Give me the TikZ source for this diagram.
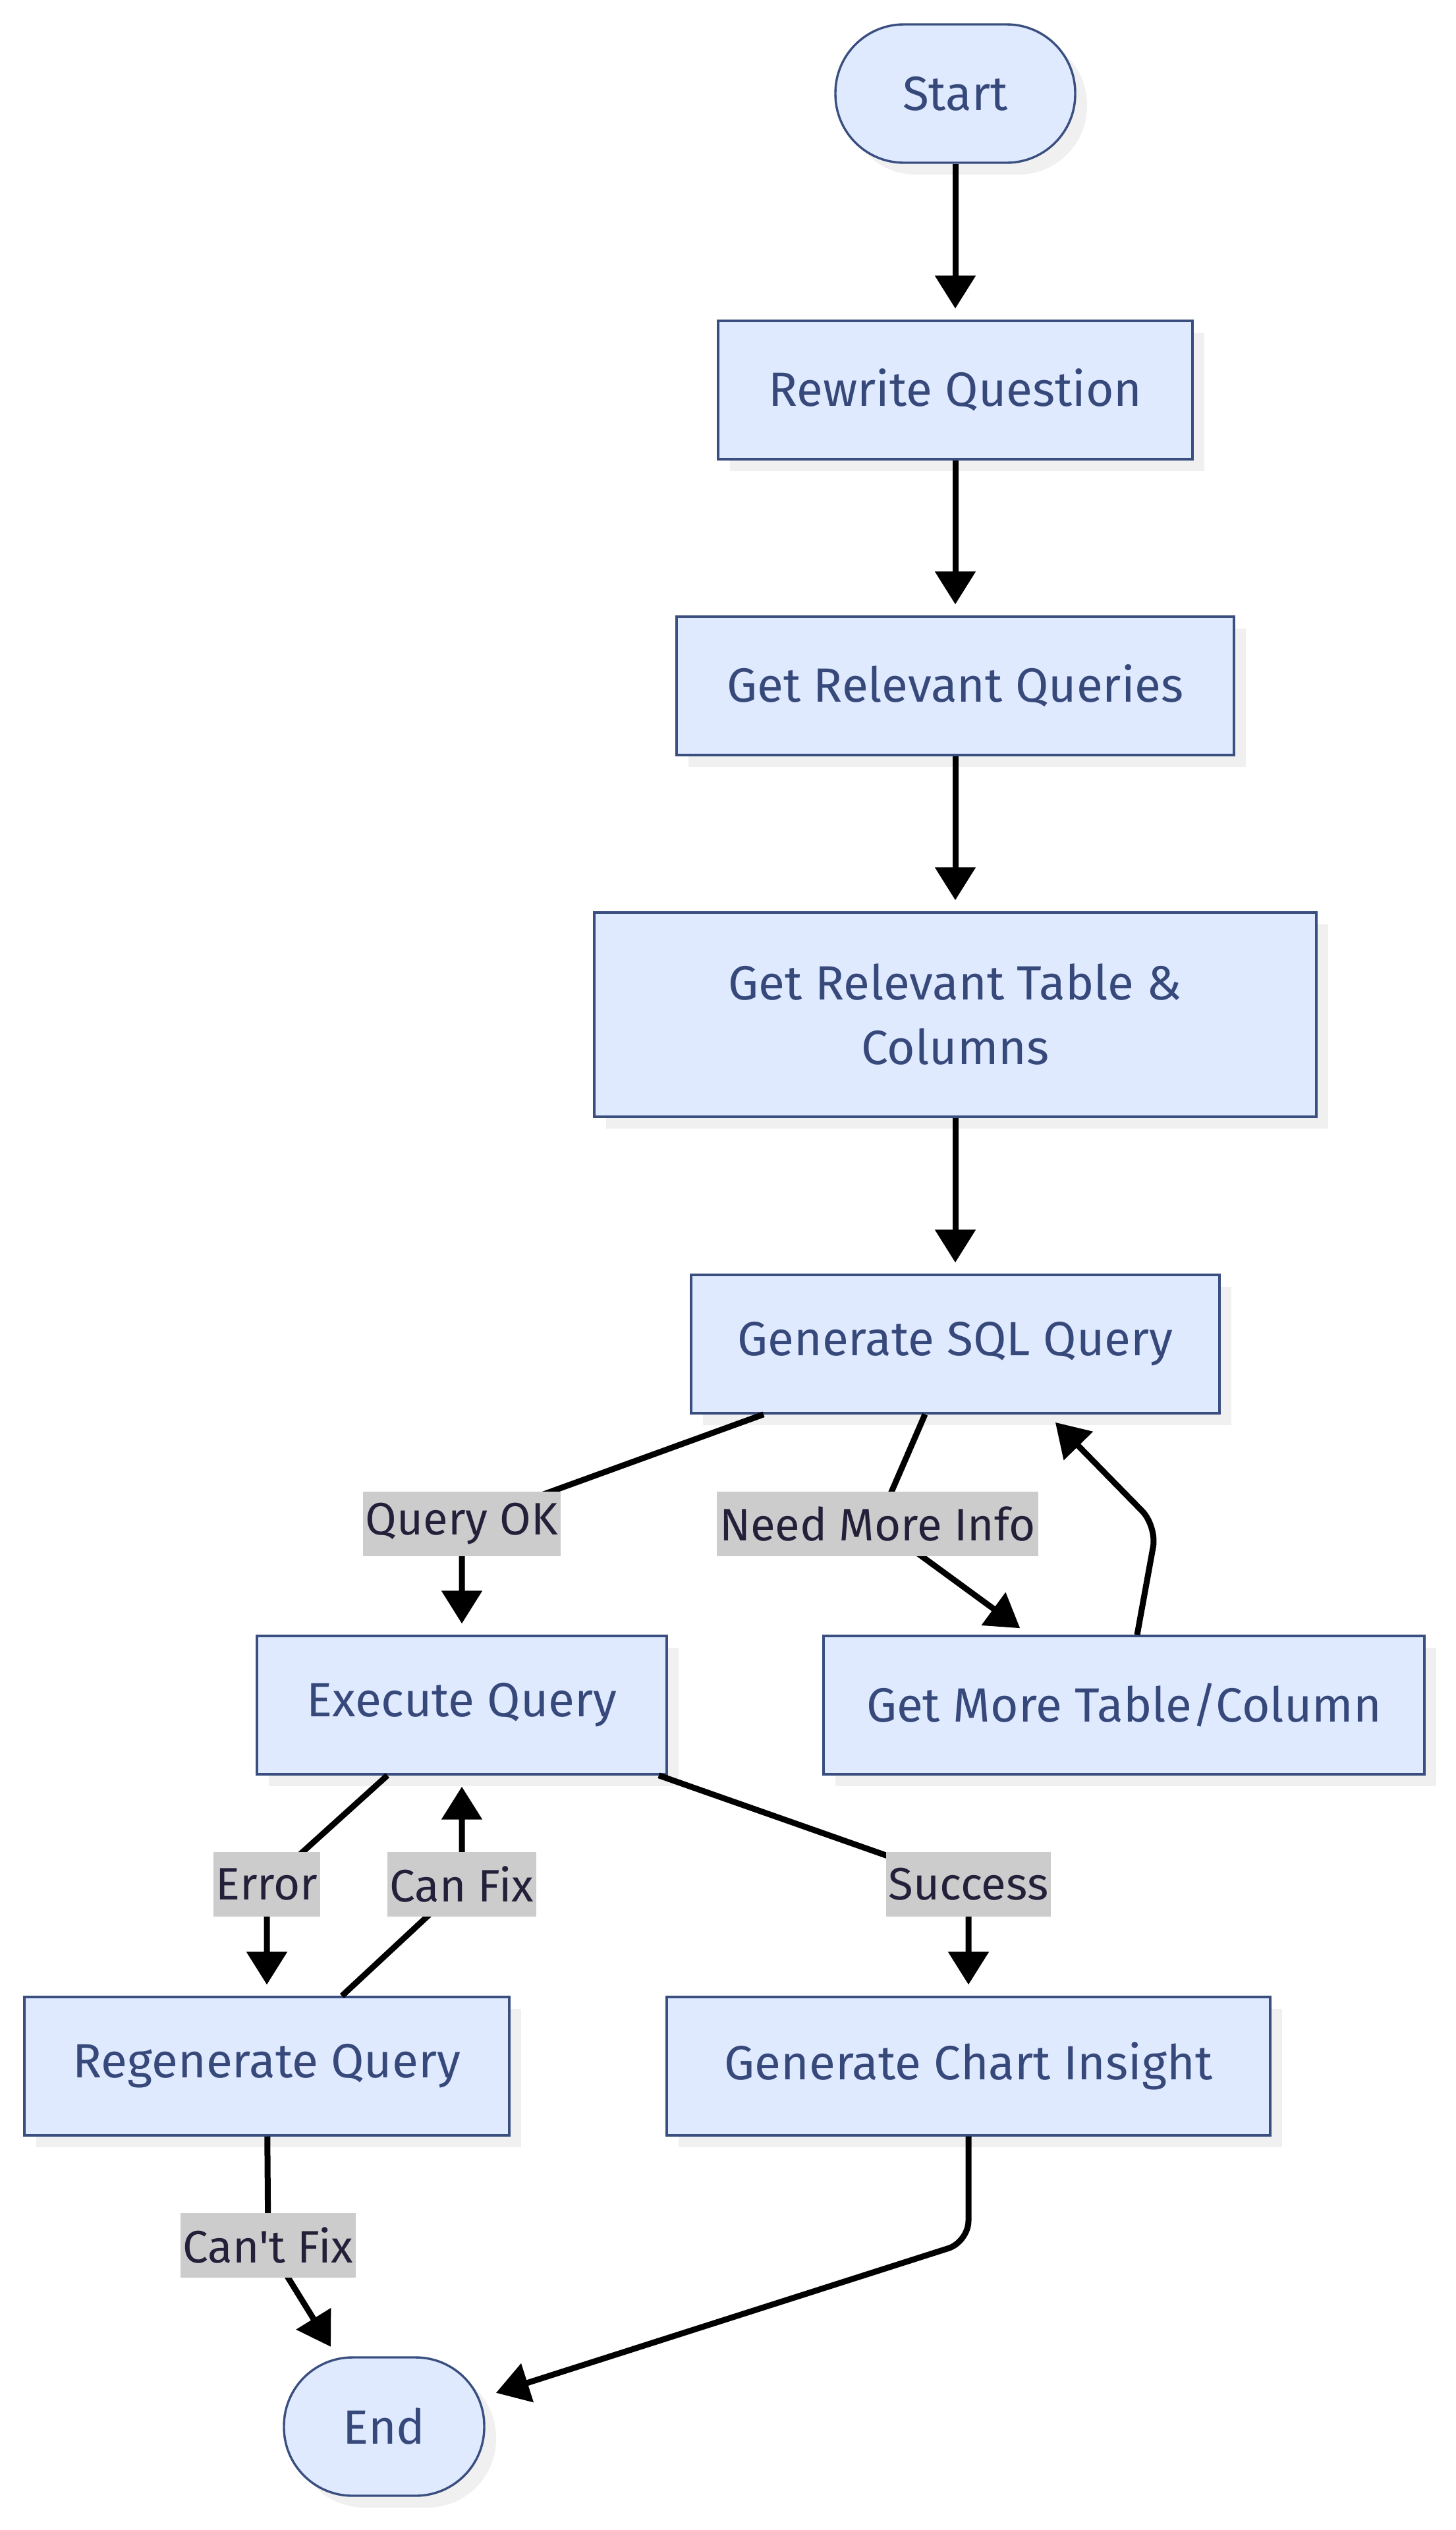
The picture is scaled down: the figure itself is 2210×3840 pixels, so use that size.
\documentclass[tikz,border=0pt]{standalone}
\usepackage{fontspec}
\setmainfont{Fira Sans}
\usetikzlibrary{arrows.meta,shadows}

\pgfdeclarelayer{front}
\pgfsetlayers{main,front}

\definecolor{nodefill}{HTML}{E0EAFF}
\definecolor{nodeline}{HTML}{3A4F80}
\definecolor{nodetext}{HTML}{36497A}
\definecolor{lblfill}{HTML}{CCCCCC}
\definecolor{lbltext}{HTML}{24203A}

\tikzset{
  box/.style={draw=nodeline, fill=nodefill, line width=1.7pt, text=nodetext,
    minimum height=105pt, inner sep=0pt, align=center,
    font=\fontsize{36.5pt}{49pt}\selectfont,
    drop shadow={shadow xshift=9pt, shadow yshift=-9pt, fill=black!6, opacity=1}},
  pill/.style={box, rounded corners=52pt},
  lbl/.style={fill=lblfill, text=lbltext, inner xsep=2pt, inner ysep=0pt,
    minimum height=49pt, font=\fontsize{34.5pt}{49pt}\selectfont},
  edge/.style={line width=4.5pt, -{Triangle[length=25pt,width=30pt]}, shorten >=8.5pt},
}

\begin{document}
\begin{tikzpicture}[x=0.5pt, y=-0.5pt]
    \useasboundingbox (0,0) rectangle (2210,3840);

    % Nodes
    \node[pill, minimum width=182pt] (start) at (1450,142) {Start};
    \node[box, minimum width=360pt] (rewrite) at (1450,592) {Rewrite Question};
    \node[box, minimum width=423pt] (queries) at (1450,1041) {Get Relevant Queries};
    \node[box, minimum width=548pt, minimum height=155pt] (tables) at (1450,1540) {Get Relevant Table \&\\Columns};
    \node[box, minimum width=401pt] (gensql) at (1450,2040) {Generate SQL Query};
    \node[box, minimum width=311pt] (exec) at (701,2588) {Execute Query};
    \node[box, minimum width=456pt] (more) at (1706,2588) {Get More Table/Column};
    \node[box, minimum width=368pt] (regen) at (405,3136) {Regenerate Query};
    \node[box, minimum width=458pt] (chart) at (1470,3136) {Generate Chart Insight};
    \node[pill, minimum width=152pt] (end) at (583,3683) {End};

    % Edge labels
    \begin{pgfonlayer}{front}
        \node[lbl] (lblok) at (701,2313) {Query OK};
        \node[lbl] (lblmore) at (1332,2313) {Need More Info};
        \node[lbl] (lblerr) at (405,2860) {Error};
        \node[lbl] (lblfix) at (701,2860) {Can Fix};
        \node[lbl] (lblsucc) at (1470,2860) {Success};
        \node[lbl] (lblnofix) at (407,3408) {Can\textquotesingle t Fix};
    \end{pgfonlayer}

    % Edges
    \foreach \a/\b in {start/rewrite,rewrite/queries,queries/tables,tables/gensql}
        \draw[edge] (\a) -- (\b);
    \draw[edge] ([xshift=-145.5pt]gensql.south) -- (lblok.center) -- (exec);
    \draw[edge] ([xshift=-23pt]gensql.south) -- (lblmore.center) -- ([xshift=-72pt]more.north);
    \draw[edge, rounded corners=16pt] ([xshift=10pt]more.north) -- ++(30,-165) -- ([xshift=70pt]gensql.south);
    \draw[edge] ([xshift=-56.5pt]exec.south) -- (lblerr.center) -- (regen);
    \draw[edge] ([xshift=57pt]regen.north) -- (lblfix.center) -- (exec);
    \draw[edge] ([xshift=149.5pt]exec.south) -- (lblsucc.center) -- (chart);
    \draw[edge] (regen) -- (lblnofix.center) -- ([xshift=-36pt]end.north);
    \draw[edge, rounded corners=16pt] (chart.south) -- ++(0,160) -- ([yshift=23pt]end.east);
\end{tikzpicture}
\end{document}
